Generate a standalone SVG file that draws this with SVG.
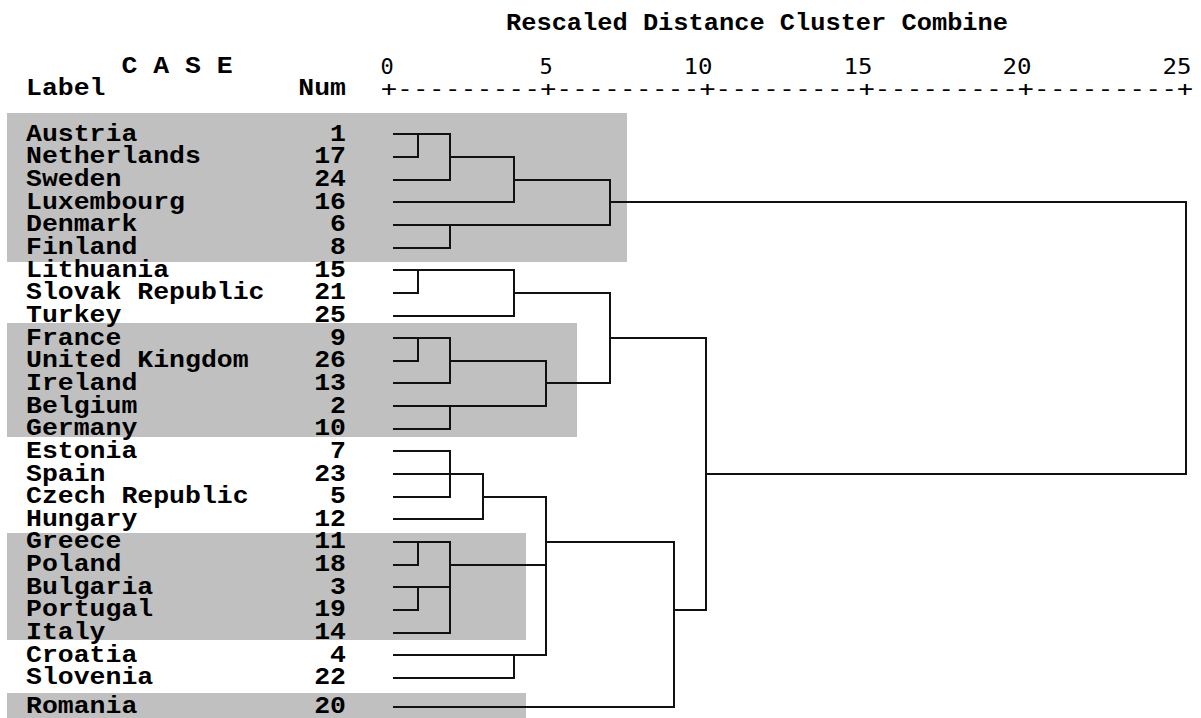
<svg xmlns="http://www.w3.org/2000/svg" width="1201" height="718" viewBox="0 0 1201 718">
<style>
.bg{fill:#c0c0c0}
.t{font-family:"Liberation Mono","Courier New",monospace;font-weight:bold;font-size:23px;fill:#000}
.ax{font-family:"DejaVu Sans Mono",monospace;font-size:22px;fill:#000}
.n{text-anchor:end}
.m{text-anchor:middle}
.ln{fill:none;stroke:#111;stroke-width:2;stroke-linecap:square;stroke-linejoin:miter}
</style>
<rect x="0" y="0" width="1201" height="718" fill="#fff"/>
<g id="shading">
<rect class="bg" x="7" y="113" width="620" height="149"/>
<rect class="bg" x="7" y="323" width="570" height="114"/>
<rect class="bg" x="7" y="533" width="519" height="107"/>
<rect class="bg" x="7" y="693" width="519" height="25"/>
</g>
<g id="header">
<text class="t" x="506" y="30" textLength="502" lengthAdjust="spacingAndGlyphs">Rescaled Distance Cluster Combine</text>
<text class="t" x="121.4" y="73" textLength="111.3" lengthAdjust="spacingAndGlyphs">C A S E</text>
<text class="t" x="26" y="95" textLength="79.5" lengthAdjust="spacingAndGlyphs">Label</text>
<text class="t n" x="346" y="95" textLength="47.7" lengthAdjust="spacingAndGlyphs">Num</text>
<text class="ax m" x="387" y="73.5">0</text>
<text class="ax m" x="546" y="73.5">5</text>
<text class="ax m" x="698" y="73.5" textLength="29" lengthAdjust="spacingAndGlyphs">10</text>
<text class="ax m" x="858" y="73.5" textLength="29" lengthAdjust="spacingAndGlyphs">15</text>
<text class="ax m" x="1017" y="73.5" textLength="29" lengthAdjust="spacingAndGlyphs">20</text>
<text class="ax m" x="1177" y="73.5" textLength="29" lengthAdjust="spacingAndGlyphs">25</text>
<text class="ax" x="381" y="96" textLength="812" lengthAdjust="spacingAndGlyphs">+---------+---------+---------+---------+---------+</text>
</g>
<g id="leaves">
<g id="n1"><text class="t" x="26" y="140.7" textLength="111.3" lengthAdjust="spacingAndGlyphs">Austria</text><text class="t n" x="346" y="140.7" textLength="15.9" lengthAdjust="spacingAndGlyphs">1</text></g>
<g id="n17"><text class="t" x="26" y="163.4" textLength="174.9" lengthAdjust="spacingAndGlyphs">Netherlands</text><text class="t n" x="346" y="163.4" textLength="31.8" lengthAdjust="spacingAndGlyphs">17</text></g>
<g id="n24"><text class="t" x="26" y="186" textLength="95.4" lengthAdjust="spacingAndGlyphs">Sweden</text><text class="t n" x="346" y="186" textLength="31.8" lengthAdjust="spacingAndGlyphs">24</text></g>
<g id="n16"><text class="t" x="26" y="208.7" textLength="159" lengthAdjust="spacingAndGlyphs">Luxembourg</text><text class="t n" x="346" y="208.7" textLength="31.8" lengthAdjust="spacingAndGlyphs">16</text></g>
<g id="n6"><text class="t" x="26" y="231.3" textLength="111.3" lengthAdjust="spacingAndGlyphs">Denmark</text><text class="t n" x="346" y="231.3" textLength="15.9" lengthAdjust="spacingAndGlyphs">6</text></g>
<g id="n8"><text class="t" x="26" y="254" textLength="111.3" lengthAdjust="spacingAndGlyphs">Finland</text><text class="t n" x="346" y="254" textLength="15.9" lengthAdjust="spacingAndGlyphs">8</text></g>
<g id="n15"><text class="t" x="26" y="276.6" textLength="143.1" lengthAdjust="spacingAndGlyphs">Lithuania</text><text class="t n" x="346" y="276.6" textLength="31.8" lengthAdjust="spacingAndGlyphs">15</text></g>
<g id="n21"><text class="t" x="26" y="299.3" textLength="238.5" lengthAdjust="spacingAndGlyphs">Slovak Republic</text><text class="t n" x="346" y="299.3" textLength="31.8" lengthAdjust="spacingAndGlyphs">21</text></g>
<g id="n25"><text class="t" x="26" y="321.9" textLength="95.4" lengthAdjust="spacingAndGlyphs">Turkey</text><text class="t n" x="346" y="321.9" textLength="31.8" lengthAdjust="spacingAndGlyphs">25</text></g>
<g id="n9"><text class="t" x="26" y="344.6" textLength="95.4" lengthAdjust="spacingAndGlyphs">France</text><text class="t n" x="346" y="344.6" textLength="15.9" lengthAdjust="spacingAndGlyphs">9</text></g>
<g id="n26"><text class="t" x="26" y="367.2" textLength="222.6" lengthAdjust="spacingAndGlyphs">United Kingdom</text><text class="t n" x="346" y="367.2" textLength="31.8" lengthAdjust="spacingAndGlyphs">26</text></g>
<g id="n13"><text class="t" x="26" y="389.9" textLength="111.3" lengthAdjust="spacingAndGlyphs">Ireland</text><text class="t n" x="346" y="389.9" textLength="31.8" lengthAdjust="spacingAndGlyphs">13</text></g>
<g id="n2"><text class="t" x="26" y="412.5" textLength="111.3" lengthAdjust="spacingAndGlyphs">Belgium</text><text class="t n" x="346" y="412.5" textLength="15.9" lengthAdjust="spacingAndGlyphs">2</text></g>
<g id="n10"><text class="t" x="26" y="435.2" textLength="111.3" lengthAdjust="spacingAndGlyphs">Germany</text><text class="t n" x="346" y="435.2" textLength="31.8" lengthAdjust="spacingAndGlyphs">10</text></g>
<g id="n7"><text class="t" x="26" y="457.8" textLength="111.3" lengthAdjust="spacingAndGlyphs">Estonia</text><text class="t n" x="346" y="457.8" textLength="15.9" lengthAdjust="spacingAndGlyphs">7</text></g>
<g id="n23"><text class="t" x="26" y="480.5" textLength="79.5" lengthAdjust="spacingAndGlyphs">Spain</text><text class="t n" x="346" y="480.5" textLength="31.8" lengthAdjust="spacingAndGlyphs">23</text></g>
<g id="n5"><text class="t" x="26" y="503.1" textLength="222.6" lengthAdjust="spacingAndGlyphs">Czech Republic</text><text class="t n" x="346" y="503.1" textLength="15.9" lengthAdjust="spacingAndGlyphs">5</text></g>
<g id="n12"><text class="t" x="26" y="525.8" textLength="111.3" lengthAdjust="spacingAndGlyphs">Hungary</text><text class="t n" x="346" y="525.8" textLength="31.8" lengthAdjust="spacingAndGlyphs">12</text></g>
<g id="n11"><text class="t" x="26" y="548.4" textLength="95.4" lengthAdjust="spacingAndGlyphs">Greece</text><text class="t n" x="346" y="548.4" textLength="31.8" lengthAdjust="spacingAndGlyphs">11</text></g>
<g id="n18"><text class="t" x="26" y="571.1" textLength="95.4" lengthAdjust="spacingAndGlyphs">Poland</text><text class="t n" x="346" y="571.1" textLength="31.8" lengthAdjust="spacingAndGlyphs">18</text></g>
<g id="n3"><text class="t" x="26" y="593.7" textLength="127.2" lengthAdjust="spacingAndGlyphs">Bulgaria</text><text class="t n" x="346" y="593.7" textLength="15.9" lengthAdjust="spacingAndGlyphs">3</text></g>
<g id="n19"><text class="t" x="26" y="616.4" textLength="127.2" lengthAdjust="spacingAndGlyphs">Portugal</text><text class="t n" x="346" y="616.4" textLength="31.8" lengthAdjust="spacingAndGlyphs">19</text></g>
<g id="n14"><text class="t" x="26" y="639" textLength="79.5" lengthAdjust="spacingAndGlyphs">Italy</text><text class="t n" x="346" y="639" textLength="31.8" lengthAdjust="spacingAndGlyphs">14</text></g>
<g id="n4"><text class="t" x="26" y="661.7" textLength="111.3" lengthAdjust="spacingAndGlyphs">Croatia</text><text class="t n" x="346" y="661.7" textLength="15.9" lengthAdjust="spacingAndGlyphs">4</text></g>
<g id="n22"><text class="t" x="26" y="684.3" textLength="127.2" lengthAdjust="spacingAndGlyphs">Slovenia</text><text class="t n" x="346" y="684.3" textLength="31.8" lengthAdjust="spacingAndGlyphs">22</text></g>
<g id="n20"><text class="t" x="26" y="712.5" textLength="111.3" lengthAdjust="spacingAndGlyphs">Romania</text><text class="t n" x="346" y="712.5" textLength="31.8" lengthAdjust="spacingAndGlyphs">20</text></g>
</g>
<g id="connectors" class="ln">
<path d="M394,134 H450 V180 H394 M394,157 H418 V134 M450,157 H514 V202 H394 M514,180 H610 V225 H394 M394,248 H450 V225 M610,202 H1186 V474 H706"/>
<path d="M394,270 H514 V316 H394 M394,293 H418 V270 M514,293 H610 V383 H546 M610,338 H706"/>
<path d="M394,338 H450 V383 H394 M394,361 H418 V338 M450,361 H546 V406 H394 M394,429 H450 V406"/>
<path d="M394,451 H450 V497 H394 M394,474 H483 V519 H394 M483,497 H546 V655 H394 M546,542 H674 M394,678 H514 V655"/>
<path d="M394,542 H450 V633 H394 M394,565 H418 V542 M394,587 H450 M394,610 H418 V587 M450,565 H546"/>
<path d="M394,707 H674 V542 M674,610 H706 V338"/>
</g>
</svg>
